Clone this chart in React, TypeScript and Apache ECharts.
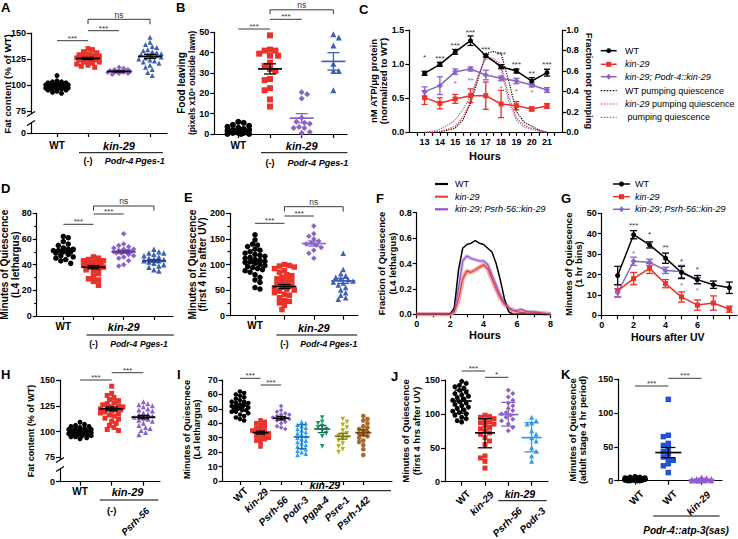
import React, { useEffect, useRef } from "react";
import * as echarts from "echarts";

const FONT = "'Liberation Sans', Arial, Helvetica, sans-serif";
const BLACK = "#000000";
const RED = "#e8322a";
const PURPLE = "#8b63c7";
const BLUE = "#3d5fb4";
const BRIGHT_BLUE = "#2252d8";
const SKY = "#2b9cf2";
const GREEN = "#1b9a6b";
const OLIVE = "#b3ad22";
const BROWN = "#a3682c";
const TRI_DOWN = "path://M0,0L10,0L5,9Z";

// ---------------- Panel A: fat content ----------------
const A_CATS = ["WT", "(-)", "Podr-4", "Pges-1"];
const A_Y_TICKS = [0, 75, 100, 125, 150];
const A_WT = [109, 104, 103, 103, 102, 102, 101, 101, 101, 100, 100, 100, 100, 99, 99, 99, 99, 99, 98, 98, 98, 98, 97, 97, 97, 96, 96, 95, 95, 94, 93, 92];
const A_KIN = [135, 134, 132, 131, 130, 129, 129, 128, 128, 127, 127, 126, 126, 125, 125, 125, 124, 124, 123, 122, 122, 121, 120, 119, 118, 117];
const A_PODR4 = [117, 116, 115, 115, 114, 114, 114, 113, 113, 113, 113, 112, 112, 112, 111, 111, 110];
const A_PGES1 = [146, 141, 139, 137, 136, 134, 133, 132, 131, 130, 129, 129, 128, 128, 127, 126, 125, 124, 123, 122, 121, 119, 117, 115, 112, 109];
const A_MEAN = [99, 125.5, 113, 127.5];
const A_ERR = [0.5, 1, 0.4, 2];

// ---------------- Panel B: food leaving ----------------
const B_WT = [6, 5.5, 4.5, 4, 3.5, 3, 2.5, 2, 2, 1.5, 1.5, 1, 1, 1, 0.5, 0.5, 0.5, 0, 0, 0];
const B_KIN = [48.5, 41.5, 41, 41, 39.5, 38.5, 38.5, 35, 33.5, 32, 31, 27, 26.5, 22.5, 21.5, 17, 13.5];
const B_PODR4 = [20.5, 19.5, 17.5, 8, 6, 5.5, 5, 3.5, 3, 3, 1, 0.5];
const B_PGES1 = [49, 47.5, 43.5, 34.5, 31, 31, 21.5];
const B_MEAN = [1.5, 32, 7.8, 35.7];
const B_ERR = [0.5, 2.5, 2.2, 4.3];

// ---------------- Panel C: ATP over time ----------------
const C_HOURS = [13, 14, 15, 16, 17, 18, 19, 20, 21];
const C_WT = [0.865, 0.997, 1.18, 1.343, 1.123, 0.962, 0.899, 0.752, 0.874];
const C_WT_ERR = [0.03, 0.03, 0.035, 0.07, 0.02, 0.03, 0.03, 0.05, 0.05];
const C_KIN = [0.508, 0.425, 0.489, 0.537, 0.537, 0.415, 0.39, 0.342, 0.386];
const C_KIN_ERR = [0.1, 0.08, 0.065, 0.1, 0.2, 0.2, 0.06, 0.03, 0.035];
const C_RES = [0.596, 0.684, 0.889, 0.928, 0.84, 0.791, 0.752, 0.694, 0.62];
const C_RES_ERR = [0.07, 0.13, 0.04, 0.03, 0.07, 0.035, 0.04, 0.03, 0.035];
const C_Q_HOURS = [13, 13.5, 14, 14.5, 15, 15.5, 16, 16.5, 17, 17.5, 18, 18.5, 19, 19.5, 20, 20.5, 21];
const C_Q_WT = [0, 0, 0.005, 0.02, 0.04, 0.12, 0.28, 0.52, 0.77, 0.79, 0.77, 0.5, 0.2, 0.1, 0.06, 0.02, 0];
const C_Q_KIN = [0, 0, 0.01, 0.03, 0.06, 0.15, 0.3, 0.55, 0.74, 0.72, 0.66, 0.35, 0.14, 0.07, 0.04, 0.02, 0];
const C_Q_RES = [0, 0.01, 0.03, 0.07, 0.12, 0.22, 0.35, 0.55, 0.72, 0.7, 0.62, 0.3, 0.12, 0.05, 0.03, 0.01, 0];
const C_WT_STARS = ["*", "***", "***", "***", "***", "***", "***", "**", "***"];
const C_WT_STAR_Y = [1.133, 1.11, 1.3, 1.49, 1.246, 1.173, 1.02, 0.89, 1.02];
const C_RES_STAR_H = [15, 16, 18, 19, 20];
const C_RES_STARS = ["*", "**", "*", "*", "*"];
const C_RES_STAR_Y = [0.742, 0.782, 0.669, 0.631, 0.606];

// ---------------- Panel D: L4 lethargus quiescence ----------------
const D_WT = [62, 61, 58, 56, 55, 53, 52, 52, 51, 51, 50, 50, 49, 48, 47, 46, 45, 44, 43, 41];
const D_KIN = [46, 45, 44, 43, 43, 42, 42, 41, 41, 40, 40, 39, 38, 37, 36, 35, 33, 31, 29, 28, 27, 24];
const D_PODR4 = [64, 56, 55, 54, 53, 52, 52, 51, 51, 50, 50, 50, 49, 49, 48, 47, 46, 45, 43, 40, 39];
const D_PGES1 = [52, 50, 49, 49, 48, 47, 46, 45, 44, 44, 43, 43, 42, 41, 40, 39, 38, 36, 35];
const D_MEAN = [50.5, 38, 50, 43];
const D_ERR = [1.3, 1.3, 1, 1];

// ---------------- Panel E: UV quiescence ----------------
const E_WT = [158, 148, 140, 138, 135, 130, 128, 125, 122, 120, 118, 116, 114, 112, 110, 108, 106, 105, 104, 102, 100, 98, 96, 94, 92, 90, 88, 85, 80, 75, 70, 65, 55, 52];
const E_KIN = [100, 98, 97, 95, 92, 88, 85, 80, 78, 75, 72, 70, 68, 65, 62, 60, 58, 56, 54, 52, 50, 48, 45, 42, 40, 35, 30, 28, 25, 20, 12];
const E_PODR4 = [175, 160, 155, 150, 146, 142, 140, 138, 133, 128, 122, 112];
const E_PGES1 = [122, 90, 82, 78, 75, 72, 70, 68, 66, 64, 60, 55, 50, 45, 40, 35, 32];
const E_MEAN = [106, 57, 141, 68];
const E_ERR = [4, 4, 5, 5];

// ---------------- Panel F: fraction of quiescence ----------------
const F_HOURS = [0, 0.25, 0.5, 0.75, 1, 1.25, 1.5, 1.75, 2, 2.25, 2.5, 2.75, 3, 3.25, 3.5, 3.75, 4, 4.25, 4.5, 4.75, 5, 5.25, 5.5, 5.75, 6, 6.25, 6.5, 6.75, 7, 7.25, 7.5, 7.75, 8];
const F_WT = [0, 0, 0, 0, 0, 0, 0, 0, 0, 0.05, 0.35, 0.52, 0.55, 0.56, 0.58, 0.56, 0.55, 0.52, 0.49, 0.4, 0.27, 0.12, 0.02, 0, 0, 0, 0, 0, 0, 0, 0, 0, 0];
const F_KIN = [0, 0, 0, 0, 0, 0, 0, 0, 0, 0.02, 0.12, 0.28, 0.34, 0.33, 0.35, 0.37, 0.39, 0.36, 0.28, 0.2, 0.13, 0.08, 0.05, 0.03, 0.02, 0.015, 0.012, 0.01, 0.012, 0.01, 0.008, 0.004, 0];
const F_RES = [0, 0, 0, 0, 0, 0, 0, 0, 0, 0.03, 0.2, 0.42, 0.46, 0.44, 0.43, 0.42, 0.42, 0.39, 0.31, 0.23, 0.15, 0.09, 0.05, 0.03, 0.03, 0.04, 0.025, 0.02, 0.02, 0.015, 0.01, 0.005, 0];

// ---------------- Panel G: 1 hr bins ----------------
const G_HOURS = [1, 2, 3, 4, 5, 6, 7, 8];
const G_WT = [19.5, 39.5, 34.5, 28, 21, 17.5, 15, 13.5];
const G_WT_ERR = [4.5, 2, 1.5, 2.5, 3, 2, 1.8, 2.8];
const G_KIN = [12, 18, 23, 15.5, 9, 5, 6, 3];
const G_KIN_ERR = [3, 3, 2.5, 2, 2.5, 2.5, 3.5, 1.5];
const G_RES_HOURS = [1, 2, 3, 4, 5, 6];
const G_RES = [11, 26.5, 26, 22, 21.5, 17];
const G_RES_ERR = [2, 2, 1.5, 1.5, 3, 1.5];
const G_WT_STAR_H = [2, 3, 4, 5, 6];
const G_WT_STARS = ["***", "*", "**", "*", "*"];
const G_WT_STAR_Y = [45.1, 40.7, 34.1, 27.5, 23.5];
const G_RES_STAR_H = [2, 5, 6];
const G_RES_STARS = ["*", "*", "*"];
const G_RES_STAR_Y = [31.5, 15.7, 13.2];

// ---------------- Panel H: fat content ----------------
const H_CATS = ["WT", "(-)", "Psrh-56"];
const H_Y_TICKS = [0, 75, 100, 125, 150];
const H_WT = [109, 107, 106, 105, 105, 104, 103, 103, 102, 102, 101, 101, 101, 100, 100, 100, 100, 99, 99, 99, 98, 98, 98, 97, 97, 96, 96, 95, 95, 94, 93];
const H_KIN = [144, 137, 135, 133, 131, 130, 128, 127, 126, 125, 124, 124, 123, 122, 121, 121, 120, 119, 118, 117, 116, 115, 113, 112, 110, 108, 106, 104, 102, 101];
const H_PSRH56 = [129, 127, 126, 125, 124, 122, 121, 120, 118, 117, 116, 115, 114, 113, 112, 111, 110, 108, 106, 104, 103, 101, 99, 97];
const H_MEAN = [100, 122, 114];
const H_ERR = [0.6, 1.8, 1.6];

// ---------------- Panel I: L4 lethargus, neuron rescues ----------------
const I_CATS = ["WT", "kin-29", "Psrh-56", "Podr-3", "Pgpa-4", "Psre-1", "Psrh-142"];
const I_WT = [62, 61, 60, 59, 58, 57, 56, 55, 55, 54, 54, 53, 53, 52, 52, 51, 51, 50, 50, 49, 49, 48, 48, 47, 46, 45, 44, 43, 42];
const I_KIN = [42, 41, 40, 39, 38, 37, 36, 35, 35, 34, 33, 33, 32, 31, 30, 30, 29, 28, 27, 24];
const I_PSRH56 = [52, 49, 48, 47, 46, 46, 45, 44, 44, 43, 43, 42, 41, 40, 38, 37, 36];
const I_PODR3 = [41, 40, 39, 38, 37, 36, 35, 34, 33, 32, 31, 30, 29, 28, 27, 26, 25, 24, 23, 22, 21, 20, 19, 18];
const I_PGPA4 = [44, 41, 40, 38, 37, 36, 35, 33, 31, 24];
const I_PSRE1 = [43, 41, 39, 37, 35, 33, 32, 31, 30, 29, 28, 26, 24, 22, 20];
const I_PSRH142 = [45, 43, 42, 40, 38, 37, 36, 35, 34, 33, 32, 31, 30, 28, 27, 25, 22, 18];
const I_MEAN = [52, 33.5, 43.5, 30.5, 36, 31, 33.5];
const I_LO = [51, 32.5, 42.3, 22.5, 33.5, 29, 31.5];
const I_HI = [53, 34.5, 44.7, 39, 38.5, 33, 35.5];

// ---------------- Panel J: UV quiescence, neuron rescues ----------------
const J_CATS = ["WT", "kin-29", "Psrh-56", "Podr-3"];
const J_WT = [148, 145, 142, 140, 138, 135, 132, 130, 128, 126, 124, 122, 120, 118, 116, 114, 112, 110, 108, 106, 104, 102, 100, 98, 95, 93, 90, 88];
const J_KIN = [98, 96, 95, 93, 90, 88, 87, 85, 83, 80, 78, 75, 72, 70, 65, 60, 55, 38, 35, 30, 20];
const J_PSRH56 = [135, 130, 125, 120, 116, 112, 108, 105, 102, 100, 98, 95, 92, 90, 85, 80, 75];
const J_PODR3 = [95, 90, 87, 85, 75, 70, 65, 60, 50, 45, 38, 30];
const J_MEAN = [119, 72, 99, 65];
const J_LO = [101, 50, 82, 44];
const J_HI = [135, 93, 117, 87];

// ---------------- Panel K: adult quiescence ----------------
const K_CATS = ["WT", "WT", "kin-29"];
const K_WT = [6, 5, 5, 4, 4, 4, 3, 3, 3, 3, 2, 2, 2, 2, 1, 1, 1, 1, 0, 0, 0, 0];
const K_WT_SAS = [120, 67, 65, 55, 52, 48, 43, 40, 35, 32, 30, 25, 22, 12];
const K_KIN = [5, 4, 3, 3, 2, 2, 2, 1, 1, 1, 1, 0, 0, 0, 0, 0];
const K_MEAN = [2, 41.5, 1];
const K_ERR = [0.4, 7.5, 0.4];

// ---------------- helpers ----------------
function swarm(values: number[], pxY: number, maxHalf: number, size: number): number[] {
  const placed: { x: number; y: number }[] = [];
  const out: number[] = [];
  const thr = size * 0.85;
  const step = size * 0.45;
  const nSteps = Math.max(1, Math.floor(maxHalf / step));
  values.forEach((v, i) => {
    const y = -v * pxY;
    const side = i % 2 ? 1 : -1;
    let best = 0;
    let bestD = -1;
    for (let k = 0; k <= 2 * nSteps; k++) {
      const c = k === 0 ? 0 : (k % 2 ? side : -side) * Math.ceil(k / 2) * step;
      let md = Infinity;
      for (const p of placed) {
        const d = Math.hypot(p.x - c, p.y - y);
        if (d < md) md = d;
      }
      if (md >= thr) { best = c; bestD = md; break; }
      if (md > bestD) { bestD = md; best = c; }
    }
    placed.push({ x: best, y });
    out.push(best);
  });
  return out;
}

const T = (x: number, y: number, text: string, o: any = {}) => ({
  type: "text", x, y, rotation: o.rot || 0, z: 100, silent: true,
  style: {
    text, fill: o.color || "#000", fontSize: o.size || 10,
    fontWeight: o.bold === false ? "normal" : "bold",
    fontStyle: o.italic ? "italic" : "normal", fontFamily: FONT,
    align: o.align || "center", verticalAlign: o.va || "middle",
    lineHeight: o.lh, rich: o.rich,
  },
});
const L = (x1: number, y1: number, x2: number, y2: number, color = "#000", w = 1, dash?: number[]) => ({
  type: "line", z: 100, silent: true, shape: { x1, y1, x2, y2 },
  style: { stroke: color, lineWidth: w, lineDash: dash },
});

function buildOption() {
  const grid: any[] = [];
  const xAxis: any[] = [];
  const yAxis: any[] = [];
  const series: any[] = [];
  const axisLine = { show: true, onZero: false, lineStyle: { color: "#000", width: 1.2 } };
  const tickStyle = { color: "#000", width: 1.2 };
  const tickLabel = { fontSize: 9, fontWeight: "bold", fontFamily: FONT, color: "#000" };

  const addGrid = (box: number[]) => {
    const [x0, x1, yTop, yBot] = box;
    grid.push({ left: x0, top: yTop, width: x1 - x0, height: yBot - yTop, containLabel: false, outerBoundsMode: "none", show: false });
    return grid.length - 1;
  };

  const dotPanel = (p: any) => {
    const gi = addGrid(p.box);
    const [x0, x1, yTop, yBot] = p.box;
    const xi = xAxis.length;
    const yi = yAxis.length;
    const cats: string[] = p.cats;
    xAxis.push({
      type: "value", gridIndex: gi, min: (x0 - p.c0) / p.s, max: (x1 - p.c0) / p.s,
      axisLine, axisTick: { show: true, length: 4, lineStyle: tickStyle, customValues: cats.map((_, i) => i) },
      axisLabel: { show: !!p.xLabelIdx, customValues: p.xLabelIdx || [0], formatter: (v: number) => cats[Math.round(v)] || "", margin: p.xMargin || 6, ...tickLabel, fontSize: 10 },
      splitLine: { show: false },
    });
    yAxis.push({
      type: "value", gridIndex: gi, min: p.yMin, max: p.yMax, interval: p.yInterval,
      axisLine, axisTick: { show: true, length: 4, lineStyle: tickStyle, customValues: p.yTickPos },
      minorTick: { show: !!p.yMinor, splitNumber: p.yMinor || 5, length: 2.5, lineStyle: tickStyle },
      axisLabel: { customValues: p.yTickPos, formatter: p.yFmt || ((v: number) => String(v)), margin: 5, ...tickLabel },
      splitLine: { show: false }, minorSplitLine: { show: false },
    });
    const pxY = (yBot - yTop) / (p.yMax - p.yMin);
    p.groups.forEach((g: any, k: number) => {
      const offs = swarm(g.values, pxY, p.swarmHalf, p.size);
      series.push({
        type: "scatter", xAxisIndex: xi, yAxisIndex: yi, symbol: g.symbol, symbolSize: p.size, silent: true, z: 2,
        itemStyle: { color: g.color, opacity: 1 },
        data: g.values.map((v: number, i: number) => [k + offs[i] / p.s, v]),
      });
    });
    series.push({
      type: "custom", xAxisIndex: xi, yAxisIndex: yi, silent: true, z: 5, clip: false,
      data: p.groups.map((g: any, k: number) => [k, g.mean, g.lo, g.hi]),
      renderItem: (params: any, api: any) => {
        const g = p.groups[params.dataIndex];
        const c = g.meanColor || g.color;
        const pm = api.coord([api.value(0), api.value(1)]);
        const pl = api.coord([api.value(0), api.value(2)]);
        const ph = api.coord([api.value(0), api.value(3)]);
        const st = { stroke: c, lineWidth: 1.3 };
        const mh = p.meanHalf;
        const ch = p.capHalf;
        return {
          type: "group",
          children: [
            { type: "line", shape: { x1: pm[0] - mh, y1: pm[1], x2: pm[0] + mh, y2: pm[1] }, style: { stroke: c, lineWidth: 1.7 } },
            { type: "line", shape: { x1: pm[0], y1: pl[1], x2: pm[0], y2: ph[1] }, style: st },
            { type: "line", shape: { x1: pm[0] - ch, y1: pl[1], x2: pm[0] + ch, y2: pl[1] }, style: st },
            { type: "line", shape: { x1: pm[0] - ch, y1: ph[1], x2: pm[0] + ch, y2: ph[1] }, style: st },
          ],
        };
      },
    });
    return { xi, yi };
  };

  const errSeries = (xi: number, yi: number, xs: number[], ys: number[], errs: number[], color: string, cap: number) => ({
    type: "custom", xAxisIndex: xi, yAxisIndex: yi, silent: true, z: 3, clip: false,
    data: xs.map((x, i) => [x, ys[i] - errs[i], ys[i] + errs[i]]),
    renderItem: (params: any, api: any) => {
      const pl = api.coord([api.value(0), api.value(1)]);
      const ph = api.coord([api.value(0), api.value(2)]);
      const st = { stroke: color, lineWidth: 1.3 };
      return {
        type: "group",
        children: [
          { type: "line", shape: { x1: pl[0], y1: pl[1], x2: ph[0], y2: ph[1] }, style: st },
          { type: "line", shape: { x1: pl[0] - cap, y1: pl[1], x2: pl[0] + cap, y2: pl[1] }, style: st },
          { type: "line", shape: { x1: ph[0] - cap, y1: ph[1], x2: ph[0] + cap, y2: ph[1] }, style: st },
        ],
      };
    },
  });
  const lineSeries = (xi: number, yi: number, xs: number[], ys: number[], color: string, symbol: string, size: number, extra: any = {}) => ({
    type: "line", xAxisIndex: xi, yAxisIndex: yi, silent: true, z: 4,
    symbol, symbolSize: size, showSymbol: symbol !== "none",
    lineStyle: { color, width: extra.width || 1.5, type: extra.type || "solid", opacity: extra.opacity == null ? 1 : extra.opacity },
    itemStyle: { color },
    data: xs.map((x, i) => [x, ys[i]]),
  });

  // ----- A -----
  const A_ZERO_AT = 53.8;
  const pA = dotPanel({
    box: [31, 167, 33, 133], c0: 57, s: 31, cats: A_CATS, xLabelIdx: [0], xMargin: 7,
    yMin: A_ZERO_AT, yMax: 150, yTickPos: A_Y_TICKS.map((v) => (v === 0 ? A_ZERO_AT : v)),
    yFmt: (v: number) => (v < 70 ? "0" : String(v)),
    size: 5, swarmHalf: 13, meanHalf: 12, capHalf: 6,
    groups: [
      { values: A_WT, color: BLACK, symbol: "circle", mean: A_MEAN[0], lo: A_MEAN[0] - A_ERR[0], hi: A_MEAN[0] + A_ERR[0] },
      { values: A_KIN, color: RED, symbol: "rect", mean: A_MEAN[1], lo: A_MEAN[1] - A_ERR[1], hi: A_MEAN[1] + A_ERR[1], meanColor: BLACK },
      { values: A_PODR4, color: PURPLE, symbol: "diamond", mean: A_MEAN[2], lo: A_MEAN[2] - A_ERR[2], hi: A_MEAN[2] + A_ERR[2], meanColor: BLACK },
      { values: A_PGES1, color: BLUE, symbol: "triangle", mean: A_MEAN[3], lo: A_MEAN[3] - A_ERR[3], hi: A_MEAN[3] + A_ERR[3], meanColor: BLACK },
    ],
  });

  // ----- B -----
  const pB = dotPanel({
    box: [214.3, 347, 32.3, 134], c0: 238.3, s: 31.7, cats: A_CATS, xLabelIdx: [0], xMargin: 6,
    yMin: 0, yMax: 50, yInterval: 10,
    size: 6, swarmHalf: 12, meanHalf: 12, capHalf: 6,
    groups: [
      { values: B_WT, color: BLACK, symbol: "circle", mean: B_MEAN[0], lo: B_MEAN[0] - B_ERR[0], hi: B_MEAN[0] + B_ERR[0] },
      { values: B_KIN, color: RED, symbol: "rect", mean: B_MEAN[1], lo: B_MEAN[1] - B_ERR[1], hi: B_MEAN[1] + B_ERR[1], meanColor: BLACK },
      { values: B_PODR4, color: PURPLE, symbol: "diamond", mean: B_MEAN[2], lo: B_MEAN[2] - B_ERR[2], hi: B_MEAN[2] + B_ERR[2] },
      { values: B_PGES1, color: BLUE, symbol: "triangle", mean: B_MEAN[3], lo: B_MEAN[3] - B_ERR[3], hi: B_MEAN[3] + B_ERR[3] },
    ],
  });

  // ----- C -----
  const gC = addGrid([409.3, 562.3, 30, 132.3]);
  const cX = xAxis.length;
  const C_TICKS: number[] = [];
  for (let h = 12.5; h <= 21.6; h += 0.5) C_TICKS.push(h);
  xAxis.push({
    type: "value", gridIndex: gC, min: 12, max: 22, axisLine,
    axisTick: { show: true, length: 3.5, lineStyle: tickStyle, customValues: C_TICKS },
    axisLabel: { customValues: C_HOURS, formatter: (v: number) => String(v), margin: 5, ...tickLabel },
    splitLine: { show: false },
  });
  const cY = yAxis.length;
  yAxis.push({
    type: "value", gridIndex: gC, min: 0, max: 1.5, interval: 0.5, axisLine,
    axisTick: { show: true, length: 4, lineStyle: tickStyle },
    axisLabel: { formatter: (v: number) => v.toFixed(1), margin: 5, ...tickLabel },
    splitLine: { show: false },
  });
  const cY2 = yAxis.length;
  yAxis.push({
    type: "value", gridIndex: gC, position: "right", min: 0, max: 1, interval: 0.2, axisLine,
    axisTick: { show: true, length: 4, lineStyle: tickStyle },
    axisLabel: { formatter: (v: number) => v.toFixed(1), margin: 4, ...tickLabel },
    splitLine: { show: false },
  });
  series.push(lineSeries(cX, cY2, C_Q_HOURS, C_Q_WT, BLACK, "none", 0, { type: "dotted", width: 1.2 }));
  series.push(lineSeries(cX, cY2, C_Q_HOURS, C_Q_KIN, RED, "none", 0, { type: "dotted", width: 1.2 }));
  series.push(lineSeries(cX, cY2, C_Q_HOURS, C_Q_RES, PURPLE, "none", 0, { type: "dotted", width: 1.2 }));
  series.push(errSeries(cX, cY, C_HOURS, C_KIN, C_KIN_ERR, RED, 3));
  series.push(errSeries(cX, cY, C_HOURS, C_RES, C_RES_ERR, PURPLE, 3));
  series.push(errSeries(cX, cY, C_HOURS, C_WT, C_WT_ERR, BLACK, 3));
  series.push(lineSeries(cX, cY, C_HOURS, C_KIN, RED, "rect", 5));
  series.push(lineSeries(cX, cY, C_HOURS, C_RES, PURPLE, "diamond", 6));
  series.push(lineSeries(cX, cY, C_HOURS, C_WT, BLACK, "circle", 5));

  // ----- D -----
  const pD = dotPanel({
    box: [36.7, 173, 213.3, 316], c0: 63.3, s: 30.2, cats: A_CATS, xLabelIdx: [0], xMargin: 5,
    yMin: 0, yMax: 80, yInterval: 20, yMinor: 2,
    size: 5.5, swarmHalf: 12, meanHalf: 12, capHalf: 6,
    groups: [
      { values: D_WT, color: BLACK, symbol: "circle", mean: D_MEAN[0], lo: D_MEAN[0] - D_ERR[0], hi: D_MEAN[0] + D_ERR[0] },
      { values: D_KIN, color: RED, symbol: "rect", mean: D_MEAN[1], lo: D_MEAN[1] - D_ERR[1], hi: D_MEAN[1] + D_ERR[1], meanColor: BLACK },
      { values: D_PODR4, color: PURPLE, symbol: "diamond", mean: D_MEAN[2], lo: D_MEAN[2] - D_ERR[2], hi: D_MEAN[2] + D_ERR[2], meanColor: "#5b3a99" },
      { values: D_PGES1, color: BLUE, symbol: "triangle", mean: D_MEAN[3], lo: D_MEAN[3] - D_ERR[3], hi: D_MEAN[3] + D_ERR[3], meanColor: "#23408a" },
    ],
  });

  // ----- E -----
  const pE = dotPanel({
    box: [230, 358, 213.3, 315.7], c0: 255, s: 29.4, cats: A_CATS, xLabelIdx: [0], xMargin: 5,
    yMin: 0, yMax: 200, yInterval: 50, yMinor: 2,
    size: 5.5, swarmHalf: 12, meanHalf: 12, capHalf: 6,
    groups: [
      { values: E_WT, color: BLACK, symbol: "circle", mean: E_MEAN[0], lo: E_MEAN[0] - E_ERR[0], hi: E_MEAN[0] + E_ERR[0] },
      { values: E_KIN, color: RED, symbol: "rect", mean: E_MEAN[1], lo: E_MEAN[1] - E_ERR[1], hi: E_MEAN[1] + E_ERR[1], meanColor: BLACK },
      { values: E_PODR4, color: PURPLE, symbol: "diamond", mean: E_MEAN[2], lo: E_MEAN[2] - E_ERR[2], hi: E_MEAN[2] + E_ERR[2] },
      { values: E_PGES1, color: BLUE, symbol: "triangle", mean: E_MEAN[3], lo: E_MEAN[3] - E_ERR[3], hi: E_MEAN[3] + E_ERR[3] },
    ],
  });

  // ----- F -----
  const gF = addGrid([416.7, 550.5, 212.7, 314.3]);
  const fX = xAxis.length;
  xAxis.push({
    type: "value", gridIndex: gF, min: 0, max: 8, interval: 2, axisLine,
    axisTick: { show: true, length: 4, lineStyle: tickStyle },
    minorTick: { show: true, splitNumber: 2, length: 3, lineStyle: tickStyle },
    axisLabel: { margin: 5, ...tickLabel }, splitLine: { show: false }, minorSplitLine: { show: false },
  });
  const fY = yAxis.length;
  yAxis.push({
    type: "value", gridIndex: gF, min: 0, max: 0.8, interval: 0.2, axisLine,
    axisTick: { show: true, length: 4, lineStyle: tickStyle },
    axisLabel: { formatter: (v: number) => v.toFixed(1), margin: 5, ...tickLabel },
    splitLine: { show: false },
  });
  series.push(lineSeries(fX, fY, F_HOURS, F_KIN, "#f08a80", "none", 0, { width: 4.5, opacity: 0.75 }));
  series.push(lineSeries(fX, fY, F_HOURS, F_RES, "#c9a6e3", "none", 0, { width: 3.5, opacity: 0.75 }));
  series.push(lineSeries(fX, fY, F_HOURS, F_WT, BLACK, "none", 0, { width: 1.5 }));
  series.push(lineSeries(fX, fY, F_HOURS, F_RES, "#9a4fc2", "none", 0, { width: 1.1 }));
  series.push(lineSeries(fX, fY, F_HOURS, F_KIN, "#e53a2c", "none", 0, { width: 1.1 }));

  // ----- G -----
  const gG = addGrid([601.7, 737, 213.3, 315.3]);
  const gX = xAxis.length;
  xAxis.push({
    type: "value", gridIndex: gG, min: 0, max: 8.48, axisLine,
    axisTick: { show: true, length: 4, lineStyle: tickStyle, customValues: [0, 1, 2, 3, 4, 5, 6, 7, 8] },
    axisLabel: { customValues: [0, 2, 4, 6], formatter: (v: number) => String(v), margin: 5, ...tickLabel },
    splitLine: { show: false },
  });
  const gY = yAxis.length;
  yAxis.push({
    type: "value", gridIndex: gG, min: 0, max: 50, interval: 10, axisLine,
    axisTick: { show: true, length: 4, lineStyle: tickStyle },
    axisLabel: { margin: 5, ...tickLabel }, splitLine: { show: false },
  });
  series.push(errSeries(gX, gY, G_HOURS, G_KIN, G_KIN_ERR, RED, 3.5));
  series.push(errSeries(gX, gY, G_RES_HOURS, G_RES, G_RES_ERR, PURPLE, 3.5));
  series.push(errSeries(gX, gY, G_HOURS, G_WT, G_WT_ERR, BLACK, 3.5));
  series.push(lineSeries(gX, gY, G_HOURS, G_KIN, RED, "rect", 5));
  series.push(lineSeries(gX, gY, G_RES_HOURS, G_RES, PURPLE, "diamond", 6));
  series.push(lineSeries(gX, gY, G_HOURS, G_WT, BLACK, "circle", 5));

  // ----- H -----
  const H_ZERO_AT = 51.4;
  const pH = dotPanel({
    box: [60, 160, 380, 481.7], c0: 80, s: 31.7, cats: H_CATS, xLabelIdx: [0], xMargin: 5,
    yMin: H_ZERO_AT, yMax: 150, yTickPos: H_Y_TICKS.map((v) => (v === 0 ? H_ZERO_AT : v)),
    yFmt: (v: number) => (v < 70 ? "0" : String(v)),
    size: 5, swarmHalf: 13, meanHalf: 12, capHalf: 6,
    groups: [
      { values: H_WT, color: BLACK, symbol: "circle", mean: H_MEAN[0], lo: H_MEAN[0] - H_ERR[0], hi: H_MEAN[0] + H_ERR[0] },
      { values: H_KIN, color: RED, symbol: "rect", mean: H_MEAN[1], lo: H_MEAN[1] - H_ERR[1], hi: H_MEAN[1] + H_ERR[1], meanColor: BLACK },
      { values: H_PSRH56, color: PURPLE, symbol: "triangle", mean: H_MEAN[2], lo: H_MEAN[2] - H_ERR[2], hi: H_MEAN[2] + H_ERR[2], meanColor: BLACK },
    ],
  });

  // ----- I -----
  const I_COLORS = [BLACK, RED, PURPLE, SKY, GREEN, OLIVE, BROWN];
  const I_SYMBOLS = ["circle", "rect", "diamond", "triangle", TRI_DOWN, TRI_DOWN, "circle"];
  const I_VALUES = [I_WT, I_KIN, I_PSRH56, I_PODR3, I_PGPA4, I_PSRE1, I_PSRH142];
  const I_MEANCOL = [BLACK, BLACK, BLACK, "#1a6fc0", "#12704d", "#7d7810", "#6e4419"];
  const pI = dotPanel({
    box: [222.7, 392, 380, 481], c0: 240, s: 20.55, cats: I_CATS,
    yMin: 0, yMax: 70, yInterval: 10,
    size: 4.6, swarmHalf: 8.5, meanHalf: 8, capHalf: 4.5,
    groups: I_CATS.map((_, k) => ({ values: I_VALUES[k], color: I_COLORS[k], symbol: I_SYMBOLS[k], mean: I_MEAN[k], lo: I_LO[k], hi: I_HI[k], meanColor: I_MEANCOL[k] })),
  });

  // ----- J -----
  const J_COLORS = [BLACK, RED, PURPLE, SKY];
  const J_SYMBOLS = ["circle", "rect", "diamond", "triangle"];
  const J_VALUES = [J_WT, J_KIN, J_PSRH56, J_PODR3];
  const J_MEANCOL = [BLACK, BLACK, PURPLE, SKY];
  const pJ = dotPanel({
    box: [445, 548, 380, 481.7], c0: 461.7, s: 23.3, cats: J_CATS,
    yMin: 0, yMax: 150, yInterval: 50,
    size: 5, swarmHalf: 9, meanHalf: 10, capHalf: 7,
    groups: J_CATS.map((_, k) => ({ values: J_VALUES[k], color: J_COLORS[k], symbol: J_SYMBOLS[k], mean: J_MEAN[k], lo: J_LO[k], hi: J_HI[k], meanColor: J_MEANCOL[k] })),
  });

  // ----- K -----
  const pK = dotPanel({
    box: [618.3, 722, 379, 480.7], c0: 635, s: 33.3, cats: K_CATS,
    yMin: 0, yMax: 150, yInterval: 50,
    size: 5.5, swarmHalf: 12, meanHalf: 13, capHalf: 7,
    groups: [
      { values: K_WT, color: BLACK, symbol: "circle", mean: K_MEAN[0], lo: K_MEAN[0] - K_ERR[0], hi: K_MEAN[0] + K_ERR[0] },
      { values: K_WT_SAS, color: BRIGHT_BLUE, symbol: "rect", mean: K_MEAN[1], lo: K_MEAN[1] - K_ERR[1], hi: K_MEAN[1] + K_ERR[1], meanColor: BLACK },
      { values: K_KIN, color: "#9b59d6", symbol: "triangle", mean: K_MEAN[2], lo: K_MEAN[2] - K_ERR[2], hi: K_MEAN[2] + K_ERR[2], meanColor: PURPLE },
    ],
  });

  const option = {
    animation: false,
    backgroundColor: "#ffffff",
    textStyle: { fontFamily: FONT },
    grid, xAxis, yAxis, series,
  };

  const graphics = (px: (xi: number, v: number) => number, py: (yi: number, v: number) => number) => {
    const g: any[] = [];
    const add = (...els: any[]) => els.forEach((e) => g.push(e));
    const br = (xi: number, a: number, b: number, y: number, label: string, legs = 0) => {
      const xa = px(xi, a);
      const xb = px(xi, b);
      add(L(xa, y, xb, y, "#222", 0.9));
      if (legs) add(L(xa, y, xa, y + legs, "#222", 0.9), L(xb, y, xb, y + legs, "#222", 0.9));
      add(T((xa + xb) / 2, label === "ns" ? y - 4.8 : y - 2.5, label, { size: label === "ns" ? 8.5 : 8, bold: false, color: "#333" }));
    };
    const yName = (cx: number, cy: number, text: string, size: number, rot = Math.PI / 2, rich?: any) =>
      add(T(cx, cy, text, { size, lh: 10.5, rot, rich }));
    const letter = (x: number, y: number, s: string) => add(T(x, y, s, { size: 13, align: "left", va: "top" }));
    const ital = { i: { fontStyle: "italic", fontWeight: "normal", fontSize: 9, fontFamily: FONT, fill: "#000" }, n: { fontStyle: "normal", fontWeight: "normal", fontSize: 9, fontFamily: FONT, fill: "#000" } };
    const legRow = (lx1: number, lx2: number, y: number, color: string, marker: string, text: string, tx: number, o: any = {}) => {
      add(L(lx1, y, lx2, y, color, o.w || 1.5, o.dash));
      const cx = (lx1 + lx2) / 2;
      if (marker === "circle") add({ type: "circle", z: 100, shape: { cx, cy: y, r: 2.5 }, style: { fill: color } });
      if (marker === "rect") add({ type: "rect", z: 100, shape: { x: cx - 2.5, y: y - 2.5, width: 5, height: 5 }, style: { fill: color } });
      if (marker === "diamond") add({ type: "polygon", z: 100, shape: { points: [[cx, y - 3], [cx + 2.5, y], [cx, y + 3], [cx - 2.5, y]] }, style: { fill: color } });
      add(T(tx, y, text, { size: 9, bold: false, align: "left", italic: o.italic, rich: o.rich }));
    };
    const breakMarks = (x: number, yA: number, yB: number) => {
      add({ type: "rect", z: 99, shape: { x: x - 2, y: yA, width: 4, height: yB - yA }, style: { fill: "#fff" } });
      add(L(x - 4, yA + 2.5, x + 4, yA - 2.5, "#000", 1.2), L(x - 4, yB + 2.5, x + 4, yB - 2.5, "#000", 1.2));
    };
    const subLabels = (xi: number, idxs: number[], labels: string[], y: number, italics: boolean[], size = 9) =>
      idxs.forEach((k, j) => add(T(px(xi, k), y, labels[j], { size, italic: italics[j] })));
    const rotLabel = (x: number, y: number, text: string, italic = false, size = 10) =>
      add(T(x, y, text, { size, italic, align: "right", rot: Math.PI / 4 }));

    // A
    letter(1, 1, "A");
    yName(7.5, 84, "Fat content (% of WT)", 9.7);
    breakMarks(31, 114, 123);
    add(T(px(pA.xi, 2), 146, "kin-29", { size: 11, italic: true }));
    add(L(px(pA.xi, 1) - 9, 152.7, px(pA.xi, 3) + 13, 152.7, "#000", 1));
    subLabels(pA.xi, [1, 2, 3], ["(-)", "Podr-4", "Pges-1"], 160.7, [false, true, true]);
    br(pA.xi, 0, 1, 40.7, "***");
    br(pA.xi, 1, 2, 30.7, "***");
    br(pA.xi, 1, 3, 19.3, "ns", 5);

    // B
    letter(176, 1, "B");
    yName(186.7, 83, "{a|Food leaving}\n{b|(pixels x10³ outside lawn)}", 10, Math.PI / 2, {
      a: { fontSize: 10, fontWeight: "bold", fontFamily: FONT, fill: "#000", lineHeight: 11 },
      b: { fontSize: 8.6, fontWeight: "bold", fontFamily: FONT, fill: "#000", lineHeight: 11 },
    });
    add(T(px(pB.xi, 2), 146, "kin-29", { size: 11, italic: true }));
    add(L(px(pB.xi, 1) - 9, 152.7, px(pB.xi, 3) + 14, 152.7, "#000", 1));
    subLabels(pB.xi, [1, 2, 3], ["(-)", "Podr-4", "Pges-1"], 163, [false, true, true]);
    br(pB.xi, 0, 1, 29, "***");
    br(pB.xi, 1, 2, 19.3, "***");
    br(pB.xi, 1, 3, 9.8, "ns", 4.5);

    // C
    letter(359, 3, "C");
    yName(378.7, 81, "nM ATP/μg protein\n(normalized to WT)", 9.6);
    yName(589.5, 81, "Fraction not pumping", 9.4, -Math.PI / 2);
    add(T(485, 156, "Hours", { size: 11 }));
    C_HOURS.forEach((h, i) => add(T(px(cX, h), py(cY, C_WT_STAR_Y[i]) + 2, C_WT_STARS[i], { size: 8, bold: false, color: "#333" })));
    C_RES_STAR_H.forEach((h, i) => add(T(px(cX, h), py(cY, C_RES_STAR_Y[i]) + 2, C_RES_STARS[i], { size: 8, bold: false, color: PURPLE })));
    legRow(600.7, 616.7, 50.7, BLACK, "circle", "WT", 625);
    legRow(600.7, 616.7, 64.3, RED, "rect", "kin-29", 625, { italic: true });
    legRow(600.7, 616.7, 76.7, PURPLE, "diamond", "kin-29; Podr-4::kin-29", 625, { italic: true });
    legRow(600.7, 616.7, 90.7, BLACK, "none", "WT pumping quiescence", 625, { dash: [1.5, 1.5], w: 1.2 });
    legRow(600.7, 616.7, 104, RED, "none", "{i|kin-29}{n| pumping quiescence}", 625, { dash: [1.5, 1.5], w: 1.2, rich: ital });
    legRow(600.7, 616.7, 117.3, PURPLE, "none", " pumping quiescence", 625, { dash: [1.5, 1.5], w: 1.2 });

    // D
    letter(1, 182, "D");
    yName(10, 264.7, "Minutes of Quiescence\n(L4 lethargus)", 10.1);
    add(T(px(pD.xi, 2), 326.7, "kin-29", { size: 11, italic: true }));
    add(L(px(pD.xi, 1) - 7, 335, px(pD.xi, 3) + 20, 335, "#000", 1));
    subLabels(pD.xi, [1, 2, 3], ["(-)", "Podr-4", "Pges-1"], 343.5, [false, true, true], 8.5);
    br(pD.xi, 0, 1, 224.3, "***");
    br(pD.xi, 1, 2, 214, "***");
    br(pD.xi, 1, 3, 206, "ns", 4.7);

    // E
    letter(184, 191, "E");
    yName(197.5, 264.5, "Minutes of Quiescence\n(first 4 hrs after UV)", 10.1);
    add(T(px(pE.xi, 2), 327.5, "kin-29", { size: 11, italic: true }));
    add(L(px(pE.xi, 1) - 8, 335, px(pE.xi, 3) + 14, 335, "#000", 1));
    subLabels(pE.xi, [1, 2, 3], ["(-)", "Podr-4", "Pges-1"], 344, [false, true, true], 8.5);
    br(pE.xi, 0, 1, 223.3, "***");
    br(pE.xi, 1, 2, 216, "***");
    br(pE.xi, 1, 3, 206.7, "ns", 5);

    // F
    letter(376, 192, "F");
    yName(387, 263.5, "Fraction of Quiescence\n(L4 lethargus)", 9.4);
    add(T(485, 335, "Hours", { size: 11 }));
    legRow(435, 448, 184, BLACK, "none", "WT", 455, { w: 2.2 });
    legRow(435, 448, 196.7, "#e8463c", "none", "kin-29", 455, { w: 2.2, italic: true });
    legRow(435, 448, 209.3, "#9a4fc2", "none", "kin-29; Psrh-56::kin-29", 455, { w: 2.2, italic: true });

    // G
    letter(561, 192, "G");
    yName(573.3, 264.3, "Minutes of Quiescence\n(1 hr bins)", 9.5);
    add(T(667.7, 336.7, "Hours after UV", { size: 10.5 }));
    G_WT_STAR_H.forEach((h, i) => add(T(px(gX, h), py(gY, G_WT_STAR_Y[i]) + 2, G_WT_STARS[i], { size: 8, bold: false, color: "#333" })));
    G_RES_STAR_H.forEach((h, i) => add(T(px(gX, h), py(gY, G_RES_STAR_Y[i]) + 2, G_RES_STARS[i], { size: 8, bold: false, color: PURPLE })));
    legRow(613, 630, 184, BLACK, "circle", "WT", 635);
    legRow(613, 630, 196.7, RED, "rect", "kin-29", 635, { italic: true });
    legRow(613, 630, 209.3, PURPLE, "diamond", "kin-29; Psrh-56::kin-29", 635, { italic: true });

    // H
    letter(1, 368, "H");
    yName(31, 431, "Fat content (% of WT)", 9);
    breakMarks(60, 460, 469);
    add(T((px(pH.xi, 1) + px(pH.xi, 2)) / 2, 491.7, "kin-29", { size: 11, italic: true }));
    add(L(px(pH.xi, 1) - 12, 500, px(pH.xi, 2) + 15, 500, "#000", 1));
    add(T(px(pH.xi, 1), 510, "(-)", { size: 9.5 }));
    rotLabel(px(pH.xi, 2) + 4, 509, "Psrh-56", true, 9.5);
    br(pH.xi, 0, 1, 380, "***");
    br(pH.xi, 1, 2, 372.7, "***");

    // I
    letter(177, 368, "I");
    yName(192, 429.5, "Minutes of Quiescnece\n(L4 lethargus)", 9.1);
    rotLabel(px(pI.xi, 0) + 6, 489, "WT");
    rotLabel(px(pI.xi, 1) + 6, 490, "kin-29", true);
    add(T(325, 484.5, "kin-29", { size: 10.5, italic: true }));
    add(L(px(pI.xi, 2) - 11, 490.7, 391, 490.7, "#000", 1));
    for (let k = 2; k < I_CATS.length; k++) rotLabel(px(pI.xi, k) + 5, 498, I_CATS[k], true);
    br(pI.xi, 0, 1, 378.3, "***");
    br(pI.xi, 1, 2, 385, "***");

    // J
    letter(391, 370, "J");
    yName(411, 431, "Minutes of Quiescence\n(first 4 hrs after UV)", 9.5);
    rotLabel(px(pJ.xi, 0) + 7, 492, "WT");
    rotLabel(px(pJ.xi, 1) + 7, 493, "kin-29", true);
    add(T((px(pJ.xi, 2) + px(pJ.xi, 3)) / 2, 494, "kin-29", { size: 10.5, italic: true }));
    add(L(px(pJ.xi, 2) - 10, 500.7, px(pJ.xi, 3) + 15, 500.7, "#000", 1));
    rotLabel(px(pJ.xi, 2) + 12, 509, "Psrh-56", true);
    rotLabel(px(pJ.xi, 3) + 12, 509, "Podr-3", true);
    br(pJ.xi, 0, 1, 371, "***");
    br(pJ.xi, 1, 2, 377.3, "*");

    // K
    letter(561, 368, "K");
    yName(577.5, 430, "Minutes of Quiescence\n(adult stage 4 hr period)", 9.5);
    rotLabel(px(pK.xi, 0) + 7, 492, "WT");
    rotLabel(px(pK.xi, 1) + 7, 492, "WT");
    rotLabel(px(pK.xi, 2) + 7, 493, "kin-29", true);
    add(L(px(pK.xi, 1) - 15, 516, px(pK.xi, 2) + 18, 516, "#000", 1));
    add(T(686, 530, "Podr-4::atp-3(sas)", { size: 10, italic: true }));
    br(pK.xi, 0, 1, 386, "***");
    br(pK.xi, 1, 2, 378.3, "***");

    return g;
  };

  return { option, graphics };
}

export default function App() {
  const ref = useRef<HTMLDivElement>(null);
  useEffect(() => {
    document.body.style.margin = "0";
    const el = ref.current as HTMLDivElement;
    const chart = echarts.init(el, null, { renderer: "svg", width: 738, height: 539 });
    const { option, graphics } = buildOption();
    chart.setOption(option as any);
    const px = (xi: number, v: number) => chart.convertToPixel({ xAxisIndex: xi } as any, v) as unknown as number;
    const py = (yi: number, v: number) => chart.convertToPixel({ yAxisIndex: yi } as any, v) as unknown as number;
    chart.setOption({ graphic: graphics(px, py) } as any);
    return () => chart.dispose();
  }, []);
  return <div ref={ref} style={{ width: 738, height: 539, position: "absolute", left: 0, top: 0 }} />;
}
